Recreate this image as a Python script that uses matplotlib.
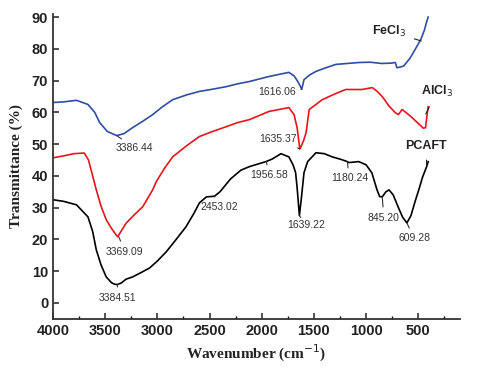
"""
FTIR spectra of PCAFT, AlCl3 and FeCl3
"""
import matplotlib.pyplot as plt
from matplotlib.ticker import MultipleLocator

# FeCl3 (blue)
fe_x = [4000, 3900, 3775, 3665, 3600, 3553, 3480, 3390, 3320, 3237, 3140, 3045, 2950, 2853, 2720,
        2597, 2470, 2340, 2230, 2120, 1930, 1740, 1690, 1650, 1616, 1595, 1540, 1480, 1390, 1290,
        1180, 1070, 960, 850, 760, 720, 705, 680, 640, 580, 530, 475, 440, 420, 405]
fe_y = [63.1, 63.3, 63.8, 62.5, 60.0, 56.8, 54.0, 52.7, 53.3, 55.2, 57.2, 59.3, 61.8, 64.0, 65.5,
        66.6, 67.3, 68.1, 69.0, 69.7, 71.3, 72.6, 71.5, 69.5, 67.3, 70.3, 71.8, 72.9, 74.0, 75.1,
        75.4, 75.7, 75.8, 75.4, 75.5, 75.7, 74.1, 74.2, 74.6, 77.0, 79.8, 83.0, 86.0, 88.5, 90.0]

# AlCl3 (red)
al_x = [4000, 3900, 3800, 3700, 3660, 3620, 3585, 3540, 3490, 3430, 3380, 3340, 3297, 3220, 3140,
        3045, 3010, 2930, 2853, 2720, 2597, 2470, 2340, 2230, 2120, 1930, 1740, 1690, 1660, 1635,
        1620, 1600, 1575, 1545, 1480, 1420, 1300, 1195, 1040, 940, 900, 845, 780, 720, 690, 655,
        600, 560, 500, 450, 430, 420, 405]
al_y = [45.7, 46.3, 47.0, 47.2, 45.0, 40.0, 35.6, 30.5, 26.2, 23.0, 20.8, 23.0, 25.2, 27.8, 30.3,
        35.6, 38.2, 42.5, 46.0, 49.5, 52.4, 54.0, 55.5, 56.8, 57.7, 60.3, 61.5, 59.3, 55.0, 48.5,
        49.5, 51.0, 53.6, 60.9, 62.5, 64.0, 65.8, 67.2, 67.2, 67.8, 66.8, 65.0, 62.0, 59.9, 59.3,
        60.9, 59.5, 58.4, 56.5, 55.0, 55.2, 58.0, 61.8]

# PCAFT (black)
pc_x = [4000, 3900, 3775, 3665, 3620, 3585, 3540, 3490, 3440, 3410, 3384, 3345, 3300, 3237, 3160,
        3075, 3000, 2915, 2820, 2725, 2650, 2597, 2530, 2453, 2400, 2300, 2200, 2120, 1960, 1900,
        1815, 1740, 1700, 1675, 1660, 1639, 1620, 1595, 1560, 1480, 1400, 1325, 1240, 1180, 1165,
        1070, 1000, 945, 895, 870, 845, 810, 780, 740, 690, 650, 609, 570, 530, 495, 460, 420, 405]
pc_y = [32.5, 32.0, 30.9, 27.1, 22.5, 16.7, 12.0, 8.2, 6.4, 5.9, 5.8, 6.3, 7.5, 8.2, 9.5,
        11.0, 13.2, 16.1, 20.0, 24.0, 28.2, 31.5, 33.4, 33.6, 35.0, 39.0, 41.8, 42.9, 44.5, 45.3,
        47.0, 46.0, 43.5, 41.0, 36.0, 27.5, 33.0, 41.0, 44.5, 47.3, 47.0, 46.0, 45.2, 44.5, 44.2,
        44.5, 43.5, 41.0, 35.6, 33.5, 33.4, 35.0, 35.6, 34.0, 30.0, 27.0, 25.2, 27.5, 32.0, 35.6,
        39.5, 42.9, 44.5]

# peak labels: text, peak position, label position
peak_labels = ['3386.44', '1616.06', '1635.37', '1956.58', '1180.24', '2453.02',
               '1639.22', '845.20', '609.28', '3369.09', '3384.51']
peak_xy = [(3390, 52.7), (1616, 67.3), (1635, 48.5), (1956, 44.5), (1180, 44.5), (2453, 33.6),
           (1639, 27.5), (845, 33.4), (609, 25.2), (3369, 20.8), (3384, 5.8)]
label_xy = [(3216, 48.7), (1858, 66.4), (1848, 51.6), (1926, 40.2), (1160, 39.2), (2405, 30.1),
            (1575, 24.4), (830, 26.9), (540, 20.3), (3312, 16.2), (3380, 1.7)]

names = ['FeCl$_3$', 'AlCl$_3$', 'PCAFT']
name_xy = [(472, 82.5), (428, 59.5), (420, 43.5)]
name_text_xy = [(778, 85.5), (320, 66.6), (425, 49.5)]

fig = plt.figure(figsize=(5, 3.76), dpi=100)
ax = fig.add_axes([0.106, 0.152, 0.814, 0.811])

ax.plot(fe_x, fe_y, color='#2f4ea3', lw=1.2)
ax.plot(al_x, al_y, color='#e8141c', lw=1.2)
ax.plot(pc_x, pc_y, color='black', lw=1.2)

for lab, xy, txy in zip(peak_labels, peak_xy, label_xy):
    ax.annotate(lab, xy=xy, xytext=txy, ha='center', va='center', fontsize=7.5,
                color='#333333', family='Liberation Sans',
                arrowprops=dict(arrowstyle='-', color='#333333', lw=0.8, shrinkA=2, shrinkB=0))

for lab, xy, txy in zip(names, name_xy, name_text_xy):
    ax.annotate(lab, xy=xy, xytext=txy, ha='center', va='center', fontsize=9,
                fontweight='bold', color='#222222', family='Liberation Sans',
                arrowprops=dict(arrowstyle='-', color='#222222', lw=0.8, shrinkA=4, shrinkB=0))

ax.set_xlim(4000, 100)
ax.set_ylim(-5, 91)
ax.xaxis.set_major_locator(MultipleLocator(500))
ax.xaxis.set_minor_locator(MultipleLocator(250))
ax.set_xticks(range(4000, 499, -500))
ax.yaxis.set_major_locator(MultipleLocator(10))
ax.set_yticks(range(0, 91, 10))

ax.spines['top'].set_visible(False)
ax.spines['right'].set_visible(False)
for s in ['left', 'bottom']:
    ax.spines[s].set_linewidth(1.3)
    ax.spines[s].set_color('#333333')

ax.tick_params(axis='both', which='major', direction='in', length=4, width=1.2,
               labelsize=10.5, colors='#333333')
ax.tick_params(axis='x', which='minor', direction='in', length=2.5, width=1)
for t in ax.get_xticklabels() + ax.get_yticklabels():
    t.set_fontweight('bold')
    t.set_family('Liberation Sans')
    t.set_color('#222222')

ax.set_xlabel('Wavenumber (cm$^{-1}$)', fontsize=11, fontweight='bold',
              family='Liberation Serif', color='#222222')
ax.set_ylabel('Transmittance (%)', fontsize=11, fontweight='bold',
              family='Liberation Serif', color='#222222', labelpad=6)

plt.savefig('out.png', dpi=100)
